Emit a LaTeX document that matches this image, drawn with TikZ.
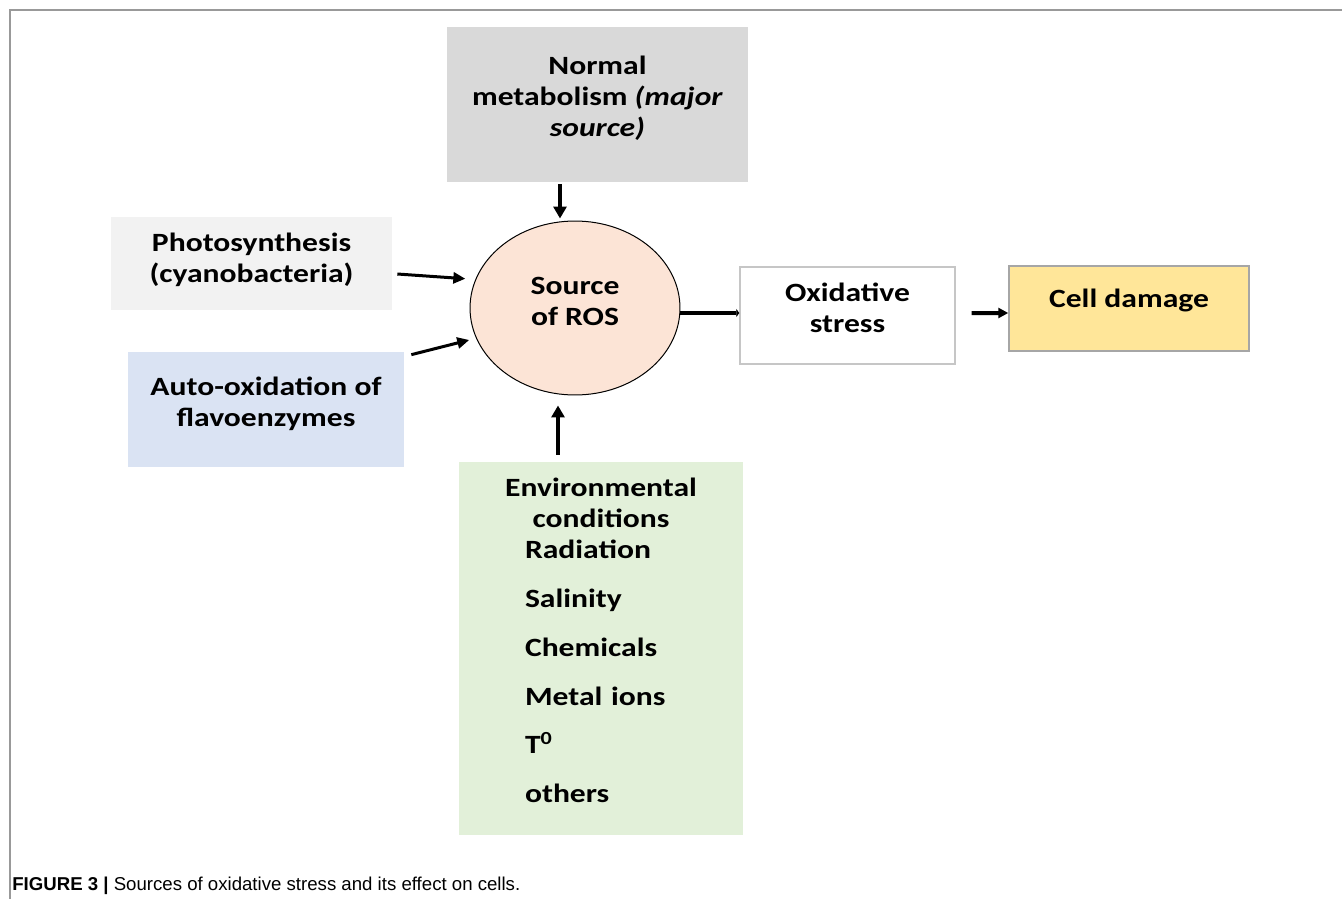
\documentclass[tikz,border=0pt]{standalone}
\usepackage{fontspec}
\setmainfont{Carlito}[FakeStretch=1.2]
\newfontfamily\capfont{Liberation Sans}
\usetikzlibrary{
  arrows.meta,
  positioning,
  shapes.geometric
}

\definecolor{normgray}{HTML}{D9D9D9}
\definecolor{photogray}{HTML}{F2F2F2}
\definecolor{autoblue}{HTML}{DAE3F3}
\definecolor{rospeach}{HTML}{FCE4D6}
\definecolor{cellyellow}{HTML}{FFE699}
\definecolor{envgreen}{HTML}{E2F0D9}

\begin{document}
\begin{tikzpicture}[
            x=0.02cm, y=-0.02cm,
            font=\bfseries\fontsize{15}{17.6}\selectfont,
            % Stili
            box/.style={rectangle, inner sep=0pt, align=center},
            boxtext/.style={align=center, inner sep=0pt},
            ros/.style={ellipse, draw=black, line width=0.02cm, fill=rospeach, minimum width=4.2cm, minimum height=3.48cm, inner sep=0pt, align=center},
            arrow/.style={line width=0.08cm, -{Triangle[length=0.24cm, width=0.26cm]}},
            thinarrow/.style={line width=0.06cm, -{Triangle[length=0.24cm, width=0.22cm]}}
        ]
        \useasboundingbox (0,0) rectangle (1342,899);

        % Cornice
        \draw [gray!80, line width=0.03cm] (1342,10) -- (10,10) -- (10,899);

        % Nodi
        \node (ros) [ros, label={[boxtext, yshift=0.14cm]center:{Source\\of ROS}}] at (575,308) {};

        \node (norm) [box, fill=normgray, minimum width=6.02cm, minimum height=3.1cm,
            label={[boxtext, yshift=0.12cm]center:{Normal\\metabolism \textit{(major}\\\textit{source)}}}] at (597.5,104.5) {};
        \node (photo) [box, fill=photogray, minimum width=5.62cm, minimum height=1.86cm,
            label={[boxtext, yshift=0.08cm]center:{Photosynthesis\\(cyanobacteria)}}] at (251.5,263.5) {};
        \node (auto) [box, fill=autoblue, minimum width=5.52cm, minimum height=2.3cm,
            label={[boxtext, yshift=0.12cm]center:{Auto-oxidation of\\flavoenzymes}}] at (266,409.5) {};

        \node (ox) [box, draw=gray!45, line width=0.03cm, fill=white, minimum width=4.3cm, minimum height=1.94cm,
            label={[boxtext, yshift=0.16cm]center:{Oxidative\\stress}}] at (847.5,315.5) {};
        \node (cell) [box, draw=gray!70, line width=0.03cm, fill=cellyellow, minimum width=4.8cm, minimum height=1.7cm,
            label={[boxtext, yshift=0.17cm]center:{Cell damage}}] at (1129,308.5) {};

        % Condizioni ambientali
        \node (env) [box, fill=envgreen, minimum width=5.68cm, minimum height=7.46cm, text width=5.68cm, align=left] at (601,648.5)
            {{\centering Environmental\\conditions\par}
             {\leftskip=1.32cm Radiation\\[0.36cm]Salinity\\[0.36cm]Chemicals\\[0.36cm]Metal ions\\[0.36cm]T\textsuperscript{0}\\[0.36cm]others\par}\kern0.32cm};

        % Didascalia
        \node (caption) [anchor=base west, inner sep=0pt, font=\capfont\fontsize{10.6}{12}\selectfont] at (12,890)
            {\textbf{FIGURE 3 |} Sources of oxidative stress and its effect on cells.};

        % Collegamenti
        \draw [arrow] ([shift={(-37.5,2)}]norm.south) -- ([shift={(-15,-2)}]ros.north);
        \draw [thinarrow, shorten >=0.2cm] ([shift={(5,10.5)}]photo.east) -- (ros.164);
        \draw [thinarrow, shorten >=0.14cm] ([shift={(7,3)}]auto.north east) -- (ros.197);
        \draw [arrow] ([shift={(-43,-7)}]env.north) -- ([shift={(-17,10)}]ros.south);

        \draw [line width=0.08cm, -{Triangle[length=0.06cm, width=0.16cm]}] ([shift={(0,5)}]ros.east) -- ([shift={(0,-2.5)}]ox.west);
        \draw [arrow, -{Triangle[length=0.2cm, width=0.2cm]}] ([shift={(16,-2.5)}]ox.east) -- ([shift={(0,4.5)}]cell.west);

    \end{tikzpicture}
\end{document}
